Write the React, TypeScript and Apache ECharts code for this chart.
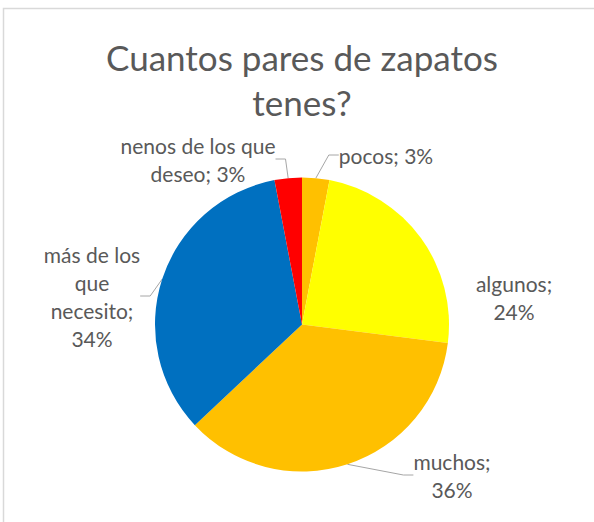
import React, { useEffect, useRef } from "react";
import * as echarts from "echarts";

const titleLines = ["Cuantos pares de zapatos", "tenes?"];
const categories = ["pocos", "algunos", "muchos", "más de los que necesito", "nenos de los que deseo"];
const values = [3, 24, 36, 34, 3];
const sliceColors = ["#FFC000", "#FFFF00", "#FFC000", "#0070C0", "#FF0000"];
const labelWordsPerLine = [[2], [1, 1], [1, 1], [3, 1, 1, 1], [4, 2]];
const showLeader = [true, false, true, true, true];
// label block centres (layout only)
const labelCenters = [
  [386, 155],
  [514, 297],
  [452, 475],
  [92, 296],
  [198, 159],
];

const FONT = "Lato, 'Open Sans', sans-serif";
const TEXT_COLOR = "#595959";

function formatLabel(p: any): string {
  const text = `${p.name}; ${Math.round(p.percent)}%`;
  const words = text.split(" ");
  const counts = labelWordsPerLine[p.dataIndex];
  const lines: string[] = [];
  let k = 0;
  for (const c of counts) {
    lines.push(words.slice(k, k + c).join(" "));
    k += c;
  }
  if (k < words.length) lines.push(words.slice(k).join(" "));
  return lines.join("\n");
}

export default function App() {
  const ref = useRef<HTMLDivElement>(null);
  useEffect(() => {
    if (!ref.current) return;
    const chart = echarts.init(ref.current, undefined, { renderer: "svg" });
    chart.setOption({
      animation: false,
      backgroundColor: "#ffffff",
      graphic: [
        {
          type: "rect",
          shape: { x: 3.5, y: 8.5, width: 700, height: 700 },
          style: { fill: "none", stroke: "#d9d9d9", lineWidth: 1.5 },
          silent: true,
        },
        {
          type: "text",
          x: 302,
          y: 79,
          style: {
            text: titleLines.join("\n"),
            fill: TEXT_COLOR,
            fontSize: 35,
            fontFamily: FONT,
            align: "center",
            verticalAlign: "middle",
            lineHeight: 45,
          },
          silent: true,
        },
      ],
      series: [
        {
          type: "pie",
          center: [302, 324.5],
          radius: 147,
          startAngle: 90,
          clockwise: true,
          avoidLabelOverlap: false,
          silent: true,
          emphasis: { disabled: true },
          itemStyle: { borderWidth: 0 },
          data: categories.map((c, i) => ({
            name: c,
            value: values[i],
            itemStyle: { color: sliceColors[i] },
            labelLine: { show: showLeader[i] },
          })),
          label: {
            show: true,
            position: "outside",
            formatter: formatLabel,
            color: TEXT_COLOR,
            fontSize: 21,
            fontFamily: FONT,
            lineHeight: 28,
            align: "center",
          },
          labelLine: {
            show: true,
            length: 10,
            length2: 10,
            smooth: false,
            lineStyle: { color: "#a6a6a6", width: 1 },
          },
          labelLayout: (p: any) => ({
            x: labelCenters[p.dataIndex][0],
            y: labelCenters[p.dataIndex][1],
            align: "center",
            verticalAlign: "middle",
          }),
        },
      ],
    });
    return () => chart.dispose();
  }, []);
  return (
    <div
      ref={ref}
      style={{ position: "fixed", left: 0, top: 0, width: 594, height: 522 }}
    />
  );
}
